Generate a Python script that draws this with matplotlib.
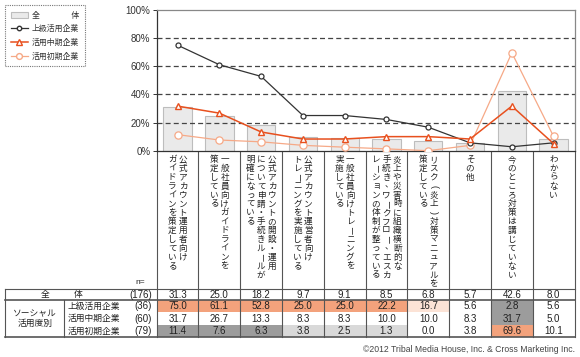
import matplotlib
matplotlib.use('Agg')
import matplotlib.pyplot as plt
from matplotlib.patches import Rectangle
from matplotlib.lines import Line2D
import numpy as np

# ---------------- data ----------------
categories = [
    ["公式アカウント運用者向け", "ガイドラインを策定している"],
    ["一般社員向けガイドラインを", "策定している"],
    ["公式アカウントの開設・運用", "について申請・手続きルールが", "明確になっている"],
    ["公式アカウント運営者向け", "トレーニングを実施している"],
    ["一般社員向けトレーニングを", "実施している"],
    ["炎上や災害時に組織横断的な", "手続き、ワークフロー、エスカ", "レーションの体制が整っている"],
    ["リスク（炎上）対策マニュアルを", "策定している"],
    ["その他"],
    ["今のところ対策は講じていない"],
    ["わからない"],
]
total = [31.3, 25.0, 18.2, 9.7, 9.1, 8.5, 6.8, 5.7, 42.6, 8.0]
advanced = [75.0, 61.1, 52.8, 25.0, 25.0, 22.2, 16.7, 5.6, 2.8, 5.6]
middle = [31.7, 26.7, 13.3, 8.3, 8.3, 10.0, 10.0, 8.3, 31.7, 5.0]
early = [11.4, 7.6, 6.3, 3.8, 2.5, 1.3, 0.0, 3.8, 69.6, 10.1]
series_names = ["全　　　　体", "上級活用企業", "活用中期企業", "活用初期企業"]
n_total = 176
n_groups = [36, 60, 79]
group_title = "ソーシャル\n活用度別"
# shading: O=strong orange, o=light orange, G=dark grey, g=light grey
shade_adv = ["O", "O", "O", "O", "O", "O", "o", "", "G", ""]
shade_mid = ["", "", "", "", "", "", "", "", "G", ""]
shade_early = ["G", "G", "G", "g", "g", "g", "", "", "O", ""]
yticks = [0, 20, 40, 60, 80, 100]
copyright_text = "©2012 Tribal Media House, Inc. & Cross Marketing Inc."

# ---------------- style ----------------
JP = ["Noto Sans CJK JP", "DejaVu Sans"]
NUM = ["Liberation Sans", "DejaVu Sans"]
W, H = 580, 357
C_BAR, C_BAR_E = "#EAEAEA", "#BDBDBD"
C_ADV, C_MID, C_EARLY = "#333333", "#E8501E", "#F6A987"
SHADE = {"O": "#F3A27C", "o": "#FCE3D6", "G": "#9C9C9C", "g": "#D9D9D9", "": None}
LINEC = "#555555"

fig = plt.figure(figsize=(W / 100, H / 100), dpi=100)
ax_l, ax_r, ax_t, ax_b = 156.7, 574.5, 10.0, 150.7
ax = fig.add_axes([ax_l / W, 1 - ax_b / H, (ax_r - ax_l) / W, (ax_b - ax_t) / H])
ov = fig.add_axes([0, 0, 1, 1], zorder=-1)
ov.set_xlim(0, W)
ov.set_ylim(H, 0)
ov.axis("off")

x = np.arange(len(total))
ax.bar(x, total, width=0.68, color=C_BAR, edgecolor=C_BAR_E, linewidth=0.8, zorder=1)
ax.plot(x, advanced, color=C_ADV, lw=0.9, marker="o", ms=3.6, mfc="white", mec=C_ADV, mew=0.9, zorder=4)
ax.plot(x, middle, color=C_MID, lw=1.1, marker="^", ms=5.0, mfc="white", mec=C_MID, mew=1.0, zorder=4)
ax.plot(x, early, color=C_EARLY, lw=0.9, marker="o", ms=5.2, mfc="white", mec=C_EARLY, mew=0.9, zorder=3)

ax.set_xlim(-0.5, len(total) - 0.5)
ax.set_ylim(0, 100)
ax.set_yticks(yticks)
ax.set_yticklabels([f"{v}%" for v in yticks], fontsize=7, family=NUM, color="#333333")
ax.set_xticks([])
ax.tick_params(axis="y", length=3, width=0.7, pad=1.5, color="#333333")
for v in yticks[1:-1]:
    ax.axhline(v, color="#444444", lw=0.9, ls=(0, (4, 2.5)), zorder=2.5)
for s in ["left", "bottom"]:
    ax.spines[s].set_color("#333333")
    ax.spines[s].set_linewidth(0.9)
for s in ["top", "right"]:
    ax.spines[s].set_color("#888888")
    ax.spines[s].set_linewidth(0.9)

# legend
handles = [
    Rectangle((0, 0), 1, 1, fc=C_BAR, ec=C_BAR_E, lw=0.8),
    Line2D([], [], color=C_ADV, lw=0.9, marker="o", ms=3.2, mfc="white", mec=C_ADV),
    Line2D([], [], color=C_MID, lw=1.1, marker="^", ms=4.2, mfc="white", mec=C_MID),
    Line2D([], [], color=C_EARLY, lw=0.9, marker="o", ms=4.2, mfc="white", mec=C_EARLY),
]
leg = fig.legend(handles, series_names, loc="upper left", bbox_to_anchor=(5 / W, 1 - 5 / H),
                 prop={"family": JP, "size": 5.7}, frameon=True, fancybox=False,
                 handlelength=2.2, handleheight=0.9, handletextpad=0.5, labelspacing=0.6,
                 borderpad=0.7, borderaxespad=0, labelcolor="#333333")
leg.get_frame().set_edgecolor("#555555")
leg.get_frame().set_linewidth(0.8)
leg.get_frame().set_linestyle((0, (1, 1)))

fig.canvas.draw()


def px(xd):
    return ax.transData.transform((xd, 0))[0]


col_w = px(1) - px(0)

# vertical (tategaki) category labels
pitch, col_gap, top_y = 8.9, 10.7, 155.0
for i, cols in enumerate(categories):
    xc = px(i)
    n = len(cols)
    for j, line in enumerate(cols):
        xx = xc + ((n - 1) / 2 - j) * col_gap
        for k, ch in enumerate(line):
            yy = top_y + k * pitch + pitch / 2
            rot, dx, dy, fs, fam = 0, 0, 0, 6.2, JP
            if ch == "ー":
                rot = -90
            if ch in "（）":
                ch = "(" if ch == "（" else ")"
                rot, fs, fam = -90, 6.5, NUM
            if ch in "、。":
                dx, dy = 2.5, -1.0
            if ch in "ァィゥェォッャュョ":
                dx, dy = 0.8, -0.8
            ov.text(xx + dx, yy + dy, ch, rotation=rot, ha="center", va="center",
                    fontsize=fs, family=fam, color="#222222")

# table geometry
t_left, grp_sep = 5.0, 64.3
rows = [289.0, 300.0, 312.4, 324.8, 337.2]

# shaded cells
for r, shades in enumerate([shade_adv, shade_mid, shade_early]):
    y0, y1 = rows[r + 1], rows[r + 2]
    for i, s in enumerate(shades):
        c = SHADE[s]
        if c:
            ov.add_patch(Rectangle((px(i - 0.5), y0), col_w, y1 - y0, fc=c, ec="none", zorder=1))

# lines
lk = dict(color=LINEC, lw=0.8, zorder=3)
for i in range(len(total) + 1):
    ov.plot([px(i - 0.5), px(i - 0.5)], [ax_b, rows[-1]], **lk)
ov.plot([t_left, ax_r], [rows[0], rows[0]], **lk)
ov.plot([t_left, ax_r], [rows[1], rows[1]], color=LINEC, lw=1.2, zorder=3)
ov.plot([t_left, ax_r], [rows[-1], rows[-1]], color=LINEC, lw=1.2, zorder=3)
ov.plot([t_left, t_left], [rows[0], rows[-1]], **lk)
ov.plot([grp_sep, grp_sep], [rows[1], rows[-1]], **lk)

# table texts
tk = dict(fontsize=7, family=NUM, color="#222222", ha="center", va="center", zorder=4)
for r, vals in enumerate([total, advanced, middle, early]):
    yc = (rows[r] + rows[r + 1]) / 2
    for i, v in enumerate(vals):
        ov.text(px(i), yc, f"{v:.1f}", **tk)
jk = dict(fontsize=6.3, family=JP, color="#222222", va="center", zorder=4)
yc0 = (rows[0] + rows[1]) / 2
ov.text(45, yc0, series_names[0][0], ha="center", **jk)
ov.text(78, yc0, series_names[0][-1], ha="center", **jk)
ov.text(152, yc0, f"({n_total})", ha="right", fontsize=7, family=NUM, color="#222222", va="center")
for r, (nm, nn) in enumerate(zip(series_names[1:], n_groups)):
    yc = (rows[r + 1] + rows[r + 2]) / 2
    ov.text(68, yc, nm, ha="left", **jk)
    ov.text(152, yc, f"({nn})", ha="right", fontsize=7, family=NUM, color="#222222", va="center")
ov.text((t_left + grp_sep) / 2, (rows[1] + rows[-1]) / 2, group_title, ha="center",
        linespacing=1.05, **jk)
ov.text(140, 282, "n=", ha="center", va="center", fontsize=6, family=NUM, color="#222222")

ov.text(575, 350, copyright_text, ha="right", va="center", fontsize=6.2, family=NUM, color="#444444")

fig.savefig("out.png", dpi=100)
